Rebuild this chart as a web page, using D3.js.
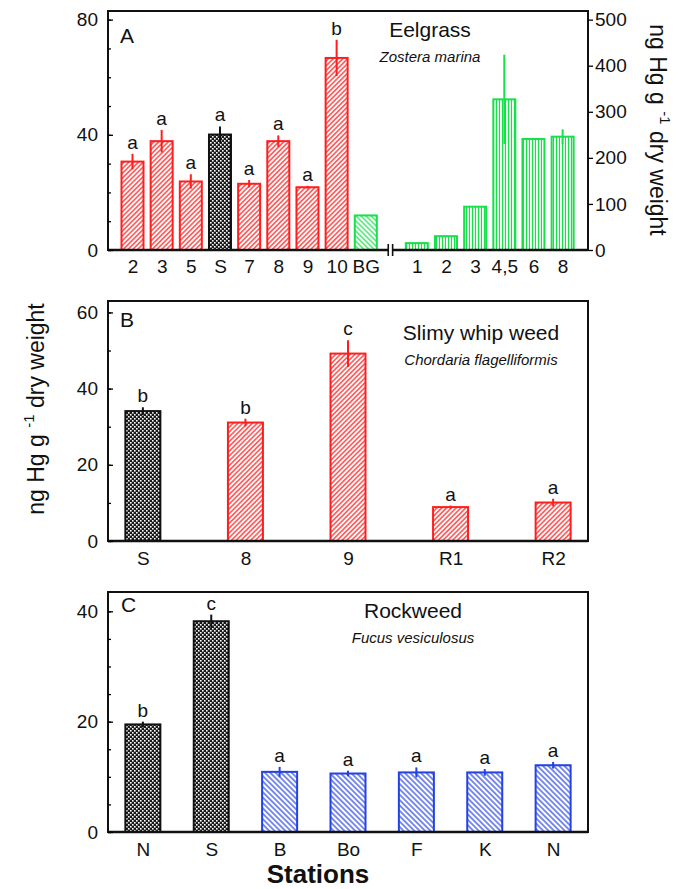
<!DOCTYPE html>
<html>
<head>
<meta charset="utf-8">
<script src="https://cdn.jsdelivr.net/npm/d3@7"></script>
<style>
  body { margin: 0; background: #fff; }
  text { font-family: "Liberation Sans", Arial, sans-serif; fill: #111; }
</style>
</head>
<body>
<svg id="chart"></svg>
<script>
// Panel A - eelgrass (left group on left axis, green group on right axis)
const eelStations = ['2', '3', '5', 'S', '7', '8', '9', '10', 'BG', '1', '2', '3', '4,5', '6', '8']
const eelValues = [30.7, 37.8, 23.8, 40.1, 23.0, 37.8, 21.8, 66.7, 75, 15, 30, 94, 327, 241, 246]
const eelErrors = [2.7, 3.9, 2.5, 2.8, 1.3, 2.0, 0.5, 6.3, 0, 0, 0, 0, 97, 2, 16]
const eelLetters = ['a', 'a', 'a', 'a', 'a', 'a', 'a', 'b', '', '', '', '', '', '', '']
const eelKinds = ['site', 'site', 'site', 'ref', 'site', 'site', 'site', 'site', 'bg', 'east', 'east', 'east', 'east', 'east', 'east']
const eelLeftTicks = [0, 40, 80]
const eelRightTicks = [0, 100, 200, 300, 400, 500]

// Panel B - slimy whip weed
const whipStations = ['S', '8', '9', 'R1', 'R2']
const whipValues = [34.1, 31.1, 49.2, 8.9, 10.1]
const whipErrors = [1.0, 1.0, 3.5, 0.4, 1.0]
const whipLetters = ['b', 'b', 'c', 'a', 'a']
const whipKinds = ['ref', 'site', 'site', 'site', 'site']
const whipTicks = [0, 20, 40, 60]

// Panel C - rockweed
const rockStations = ['N', 'S', 'B', 'Bo', 'F', 'K', 'N']
const rockValues = [19.5, 38.2, 10.9, 10.6, 10.8, 10.8, 12.1]
const rockErrors = [0.5, 1.2, 0.9, 0.5, 0.9, 0.6, 0.6]
const rockLetters = ['b', 'c', 'a', 'a', 'a', 'a', 'a']
const rockKinds = ['ref', 'ref', 'far', 'far', 'far', 'far', 'far']
const rockTicks = [0, 20, 40]

const width = 684
const height = 889
const left = 108
const right = 588

const svg = d3.select('#chart')
              .attr('width', width)
              .attr('height', height)

const defs = svg.append('defs')

const hatch = (id, color, angle, gap) => {
  const p = defs.append('pattern')
                .attr('id', id)
                .attr('patternUnits', 'userSpaceOnUse')
                .attr('width', gap)
                .attr('height', gap)
                .attr('patternTransform', `rotate(${angle})`)
  p.append('rect').attr('width', gap).attr('height', gap).attr('fill', '#fff')
  p.append('line')
   .attr('x1', gap / 2).attr('x2', gap / 2)
   .attr('y1', 0).attr('y2', gap)
   .attr('stroke', color)
   .attr('stroke-width', 1.2)
}

const red = '#ff1e1e'
const green = '#17e04a'
const blue = '#2341e4'

hatch('hatchRed', red, 45, 3.4)
hatch('hatchBlue', blue, -45, 3.8)
hatch('hatchGreenDiag', green, -45, 3.6)
hatch('hatchGreenVert', green, 0, 3)

const checker = defs.append('pattern')
                    .attr('id', 'checker')
                    .attr('patternUnits', 'userSpaceOnUse')
                    .attr('width', 4)
                    .attr('height', 4)
checker.append('rect').attr('width', 4).attr('height', 4).attr('fill', '#1a1a1a')
checker.append('rect').attr('width', 1.6).attr('height', 1.6).attr('fill', '#fff')
checker.append('rect').attr('x', 2).attr('y', 2).attr('width', 1.6).attr('height', 1.6).attr('fill', '#fff')

const kindStyle = {
  site: { stroke: red, fill: 'url(#hatchRed)' },
  ref: { stroke: '#111', fill: 'url(#checker)' },
  bg: { stroke: green, fill: 'url(#hatchGreenDiag)' },
  east: { stroke: green, fill: 'url(#hatchGreenVert)' },
  far: { stroke: blue, fill: 'url(#hatchBlue)' }
}

// bars, error bars and letters
const drawBars = (g, items, xOf, yOf, barWidth) => {
  const bars = g.append('g')
  items.forEach(d => {
    const y = yOf(d.kind)
    const cx = xOf(d)
    const st = kindStyle[d.kind]
    bars.append('rect')
        .attr('x', cx - barWidth / 2)
        .attr('y', y(d.value))
        .attr('width', barWidth)
        .attr('height', y(0) - y(d.value))
        .attr('fill', st.fill)
        .attr('stroke', st.stroke)
        .attr('stroke-width', 2)
    if (d.err > 0) {
      bars.append('line')
          .attr('x1', cx).attr('x2', cx)
          .attr('y1', y(d.value - d.err))
          .attr('y2', y(d.value + d.err))
          .attr('stroke', st.stroke)
          .attr('stroke-width', 2)
    }
    if (d.letter) {
      bars.append('text')
          .text(d.letter)
          .attr('x', cx)
          .attr('y', y(d.value + d.err) - 5)
          .attr('text-anchor', 'middle')
          .style('font-size', '19px')
    }
  })
}

const leftAxis = (g, y, ticks, minorStep) => {
  g.append('g')
   .attr('transform', `translate(${left},0)`)
   .call(d3.axisLeft(y).tickValues(d3.range(0, y.domain()[1], minorStep)).tickSize(-3).tickFormat(''))
   .call(a => a.select('.domain').remove())
  g.append('g')
   .attr('transform', `translate(${left},0)`)
   .call(d3.axisLeft(y).tickValues(ticks).tickSize(-5).tickPadding(10))
   .call(a => a.select('.domain').remove())
   .call(a => a.selectAll('text').style('font-size', '19px'))
  g.selectAll('.tick line').attr('stroke-width', 1.3)
}

const frame = (g, top, bottom) => {
  g.append('rect')
   .attr('x', left).attr('y', top)
   .attr('width', right - left).attr('height', bottom - top)
   .attr('fill', 'none').attr('stroke', '#111').attr('stroke-width', 2)
  g.append('line')
   .attr('x1', left).attr('x2', right)
   .attr('y1', bottom).attr('y2', bottom)
   .attr('stroke', '#111').attr('stroke-width', 2.6)
}

const titles = (g, letter, lx, ly, name, species, cx, ty) => {
  g.append('text').text(letter).attr('x', lx).attr('y', ly).style('font-size', '21px')
  g.append('text').text(name).attr('x', cx).attr('y', ty)
   .attr('text-anchor', 'middle').style('font-size', '21px')
  g.append('text').text(species).attr('x', cx).attr('y', ty + 25)
   .attr('text-anchor', 'middle').style('font-size', '15px').style('font-style', 'italic')
}

// ---------- Panel A ----------
const gA = svg.append('g')
const topA = 11
const bottomA = 250
const yA = d3.scaleLinear().domain([0, 83]).range([bottomA, topA])
const yAR = d3.scaleLinear().domain([0, 83 * 6.25]).range([bottomA, topA])
const slot = i => i < 9 ? i : i + 0.75
const xA = d3.scaleLinear().domain([-0.84, 15.62]).range([left, right])

const eelItems = eelStations.map((s, i) => ({
  station: s, i, value: eelValues[i], err: eelErrors[i], letter: eelLetters[i], kind: eelKinds[i]
}))

drawBars(gA, eelItems, d => xA(slot(d.i)), k => (k === 'bg' || k === 'east') ? yAR : yA, 22)
frame(gA, topA, bottomA)
leftAxis(gA, yA, eelLeftTicks, 10)

gA.append('g')
  .attr('transform', `translate(${right},0)`)
  .call(d3.axisRight(yAR).tickValues(eelRightTicks).tickSize(5).tickPadding(2))
  .call(a => a.select('.domain').remove())
  .call(a => a.selectAll('text').style('font-size', '19px'))
  .call(a => a.selectAll('.tick line').attr('stroke-width', 1.3))

gA.append('g')
  .attr('transform', `translate(0,${bottomA})`)
  .call(d3.axisBottom(xA).tickValues(eelItems.map(d => slot(d.i))).tickSize(0).tickPadding(10)
          .tickFormat((d, i) => eelStations[i]))
  .call(a => a.select('.domain').remove())
  .call(a => a.selectAll('text').style('font-size', '19px'))

// axis break between BG and the green stations
const breakL = xA(8.77)
const breakR = xA(8.92)
gA.append('rect')
  .attr('x', breakL).attr('y', bottomA - 2)
  .attr('width', breakR - breakL).attr('height', 4)
  .attr('fill', '#fff')
;[breakL, breakR].forEach(bx => {
  gA.append('line')
    .attr('x1', bx).attr('x2', bx)
    .attr('y1', bottomA - 6).attr('y2', bottomA + 6)
    .attr('stroke', '#111').attr('stroke-width', 1.6)
})

titles(gA, 'A', 120, 43, 'Eelgrass', 'Zostera marina', 430, 37)

// ---------- Panel B ----------
const gB = svg.append('g')
const topB = 301
const bottomB = 541
const yB = d3.scaleLinear().domain([0, 63]).range([bottomB, topB])
const xB = d3.scalePoint().domain(d3.range(whipStations.length)).range([left, right]).padding(0.34)

const whipItems = whipStations.map((s, i) => ({
  station: s, i, value: whipValues[i], err: whipErrors[i], letter: whipLetters[i], kind: whipKinds[i]
}))

drawBars(gB, whipItems, d => xB(d.i), () => yB, 35)
frame(gB, topB, bottomB)
leftAxis(gB, yB, whipTicks, 10)

gB.append('g')
  .attr('transform', `translate(0,${bottomB})`)
  .call(d3.axisBottom(xB).tickSize(0).tickPadding(11).tickFormat(i => whipStations[i]))
  .call(a => a.select('.domain').remove())
  .call(a => a.selectAll('text').style('font-size', '19px'))

titles(gB, 'B', 120, 327, 'Slimy whip weed', 'Chordaria flagelliformis', 481, 340)

// ---------- Panel C ----------
const gC = svg.append('g')
const topC = 592
const bottomC = 832
const yC = d3.scaleLinear().domain([0, 43.5]).range([bottomC, topC])
const xC = d3.scalePoint().domain(d3.range(rockStations.length)).range([left, right]).padding(0.51)

const rockItems = rockStations.map((s, i) => ({
  station: s, i, value: rockValues[i], err: rockErrors[i], letter: rockLetters[i], kind: rockKinds[i]
}))

drawBars(gC, rockItems, d => xC(d.i), () => yC, 35)
frame(gC, topC, bottomC)
leftAxis(gC, yC, rockTicks, 5)

gC.append('g')
  .attr('transform', `translate(0,${bottomC})`)
  .call(d3.axisBottom(xC).tickSize(0).tickPadding(11).tickFormat(i => rockStations[i]))
  .call(a => a.select('.domain').remove())
  .call(a => a.selectAll('text').style('font-size', '19px'))

titles(gC, 'C', 121, 612, 'Rockweed', 'Fucus vesiculosus', 413, 618)

// ---------- axis titles ----------
const yTitle = (x, y, angle) => {
  const t = svg.append('text')
               .attr('transform', `translate(${x},${y})rotate(${angle})`)
               .attr('text-anchor', 'middle')
               .style('font-size', '23px')
  t.append('tspan').text('ng Hg g ')
  t.append('tspan').text('-1').attr('dy', -10).style('font-size', '15px')
  t.append('tspan').text(' dry weight').attr('dy', 10)
}
yTitle(44, 409, -90)
yTitle(650, 130, 90)

svg.append('text')
   .text('Stations')
   .attr('x', 318)
   .attr('y', 883)
   .attr('text-anchor', 'middle')
   .style('font-size', '26px')
   .style('font-weight', 'bold')
</script>
</body>
</html>
